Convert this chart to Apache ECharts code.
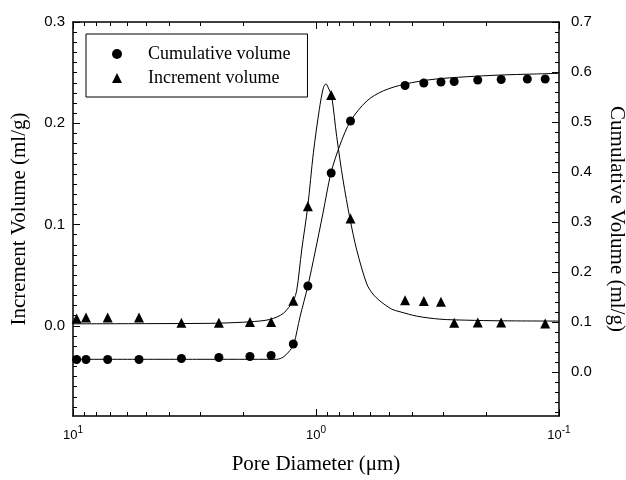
<!DOCTYPE html>
<html><head><meta charset="utf-8">
<script src="https://cdn.jsdelivr.net/npm/echarts@6/dist/echarts.min.js"></script>
<style>html,body{margin:0;padding:0;background:#fff}#c{width:626px;height:480px}</style>
</head><body><div id="c"></div>
<script>
// Measured points (pore diameter in µm)
const diameters = [9.66, 8.84, 7.2, 5.35, 3.58, 2.51, 1.87, 1.53, 1.24, 1.08, 0.866, 0.721, 0.430, 0.360, 0.306, 0.270, 0.216, 0.173, 0.135, 0.114];
const cumulativeVolume = [0.025, 0.025, 0.025, 0.025, 0.027, 0.029, 0.031, 0.033, 0.056, 0.172, 0.398, 0.502, 0.573, 0.578, 0.580, 0.581, 0.584, 0.585, 0.586, 0.586];
const incrementVolume = [0.0073, 0.0083, 0.0083, 0.0083, 0.003, 0.003, 0.0037, 0.0037, 0.0248, 0.118, 0.228, 0.106, 0.0254, 0.0245, 0.0238, 0.003, 0.0034, 0.0034, null, 0.0024];

// Fitted curves
const incrementFitD = [10, 4.82, 3.0, 2.48, 1.87, 1.55, 1.363, 1.24, 1.20, 1.145, 1.081, 1.025, 0.969, 0.933, 0.910, 0.884, 0.862, 0.822, 0.774, 0.725, 0.680, 0.618, 0.583, 0.545, 0.488, 0.451, 0.385, 0.309, 0.240, 0.175, 0.1];
const incrementFitV = [0.002, 0.0022, 0.0024, 0.0027, 0.004, 0.0063, 0.0123, 0.025, 0.0353, 0.075, 0.118, 0.171, 0.2136, 0.235, 0.239, 0.2334, 0.2267, 0.187, 0.144, 0.106, 0.075, 0.0413, 0.0314, 0.0245, 0.0165, 0.0139, 0.0096, 0.0066, 0.0056, 0.005, 0.0047];
const cumFitD = [10, 3.0, 1.45, 1.363, 1.279, 1.232, 1.164, 1.081, 1.009, 0.936, 0.868, 0.797, 0.721, 0.618, 0.528, 0.430, 0.330, 0.240, 0.175, 0.128, 0.1];
const cumFitV = [0.0254, 0.0254, 0.0254, 0.030, 0.0434, 0.0568, 0.110, 0.1715, 0.2396, 0.3177, 0.398, 0.4538, 0.502, 0.542, 0.5624, 0.5759, 0.5853, 0.5905, 0.5939, 0.5959, 0.5973];

// Tick labels
const leftTickLabels = [0, 0.1, 0.2, 0.3];
const rightTickLabels = [0, 0.1, 0.2, 0.3, 0.4, 0.5, 0.6, 0.7];
const xMinorTickDiameters = [9, 8, 7, 6, 5, 4, 3, 2, 0.9, 0.8, 0.7, 0.6, 0.5, 0.4, 0.3, 0.2];

const leftMinor = []; for (let i = -8; i <= 29; i++) { if (i % 10 !== 0) leftMinor.push(i / 100); }
const rightMinor = []; for (let i = -4; i <= 34; i++) { if (i % 5 !== 0) rightMinor.push(i / 50); }
const xMinorLog = xMinorTickDiameters.map(v => Math.log10(v));

const BLACK = '#000';
const SERIF = 'Liberation Serif';
const SANS = 'Liberation Sans';
const lineAxis = () => ({ show: true, onZero: false, lineStyle: { color: BLACK, width: 1.5 } });
const noLine = () => ({ show: false, onZero: false });

function sup(v) {
  const e = Math.round(Math.log10(v));
  return '{b|10}{s|' + e + '}';
}

const chart = echarts.init(document.getElementById('c'), null, { renderer: 'canvas' });
chart.setOption({
  animation: false,
  backgroundColor: '#fff',
  grid: { left: 73, right: 67, top: 22, bottom: 64, containLabel: false, outerBoundsMode: 'none' },
  legend: {
    left: 86, top: 34, orient: 'vertical',
    backgroundColor: '#fff', borderColor: BLACK, borderWidth: 1, borderRadius: 0,
    padding: [10, 17, 9, 26], itemGap: 4, itemWidth: 10, itemHeight: 10,
    textStyle: { fontFamily: SERIF, fontSize: 18, color: BLACK, lineHeight: 20, padding: [0, 0, 0, 21] },
    data: [{ name: 'Cumulative volume', icon: 'circle' }, { name: 'Increment volume', icon: 'triangle' }]
  },
  xAxis: [
    { type: 'log', logBase: 10, min: 0.1, max: 10, inverse: true, position: 'bottom',
      axisLine: lineAxis(), axisTick: { show: true, inside: true, length: 7, lineStyle: { color: BLACK, width: 1 } },
      splitLine: { show: false },
      axisLabel: { color: BLACK, margin: 10, formatter: sup,
        rich: { b: { fontFamily: SANS, fontSize: 13, color: BLACK, verticalAlign: 'bottom', lineHeight: 16 },
                s: { fontFamily: SANS, fontSize: 10, color: BLACK, verticalAlign: 'bottom', lineHeight: 16, padding: [0, 0, 7, 0] } } },
      name: 'Pore Diameter (\u03bcm)', nameLocation: 'middle', nameGap: 38,
      nameTextStyle: { fontFamily: SERIF, fontSize: 21, color: BLACK } },
    { type: 'log', logBase: 10, min: 0.1, max: 10, inverse: true, position: 'top',
      axisLine: lineAxis(), axisTick: { show: true, inside: true, length: 7, lineStyle: { color: BLACK, width: 1 } },
      splitLine: { show: false }, axisLabel: { show: false } },
    { type: 'value', min: -1, max: 1, inverse: true, position: 'bottom',
      axisLine: noLine(), splitLine: { show: false }, axisLabel: { show: false },
      axisTick: { show: true, inside: true, length: 4, customValues: xMinorLog, lineStyle: { color: BLACK, width: 1 } } },
    { type: 'value', min: -1, max: 1, inverse: true, position: 'top',
      axisLine: noLine(), splitLine: { show: false }, axisLabel: { show: false },
      axisTick: { show: true, inside: true, length: 4, customValues: xMinorLog, lineStyle: { color: BLACK, width: 1 } } }
  ],
  yAxis: [
    { type: 'value', min: -0.089, max: 0.3, position: 'left',
      axisLine: lineAxis(), splitLine: { show: false },
      axisTick: { inside: true, length: 7, customValues: leftTickLabels, lineStyle: { color: BLACK, width: 1 } },
      axisLabel: { customValues: leftTickLabels, margin: 8, fontFamily: SANS, fontSize: 15, color: BLACK, formatter: v => v.toFixed(1) },
      name: 'Increment Volume (ml/g)', nameLocation: 'middle', nameGap: 43, nameRotate: 90,
      nameTextStyle: { fontFamily: SERIF, fontSize: 21, color: BLACK } },
    { type: 'value', min: -0.089, max: 0.3, position: 'left',
      axisLine: noLine(), splitLine: { show: false }, axisLabel: { show: false },
      axisTick: { inside: true, length: 4, customValues: leftMinor, lineStyle: { color: BLACK, width: 1 } } },
    { type: 'value', min: -0.088, max: 0.7, position: 'right',
      axisLine: lineAxis(), splitLine: { show: false },
      axisTick: { inside: true, length: 7, customValues: rightTickLabels, lineStyle: { color: BLACK, width: 1 } },
      axisLabel: { customValues: rightTickLabels, margin: 12, fontFamily: SANS, fontSize: 15, color: BLACK, formatter: v => v.toFixed(1) },
      name: 'Cumulative Volume (ml/g)', nameLocation: 'middle', nameGap: 47, nameRotate: -90,
      nameTextStyle: { fontFamily: SERIF, fontSize: 21, color: BLACK } },
    { type: 'value', min: -0.088, max: 0.7, position: 'right',
      axisLine: noLine(), splitLine: { show: false }, axisLabel: { show: false },
      axisTick: { inside: true, length: 4, customValues: rightMinor, lineStyle: { color: BLACK, width: 1 } } }
  ],
  series: [
    { name: 'Cumulative fit', type: 'line', xAxisIndex: 0, yAxisIndex: 2, smooth: 0.3,
      showSymbol: false, silent: true, lineStyle: { color: BLACK, width: 1 },
      data: cumFitD.map((d, i) => [d, cumFitV[i]]) },
    { name: 'Increment fit', type: 'line', xAxisIndex: 0, yAxisIndex: 0, smooth: 0.3,
      showSymbol: false, silent: true, lineStyle: { color: BLACK, width: 1 },
      data: incrementFitD.map((d, i) => [d, incrementFitV[i]]) },
    { name: 'Cumulative volume', type: 'scatter', xAxisIndex: 0, yAxisIndex: 2, symbol: 'circle', symbolSize: 9,
      itemStyle: { color: BLACK, opacity: 1 }, data: diameters.map((d, i) => [d, cumulativeVolume[i]]) },
    { name: 'Increment volume', type: 'scatter', xAxisIndex: 0, yAxisIndex: 0, symbol: 'triangle', symbolSize: 10,
      itemStyle: { color: BLACK, opacity: 1 }, data: diameters.map((d, i) => [d, incrementVolume[i]]).filter(p => p[1] !== null) }
  ]
});
</script></body></html>
